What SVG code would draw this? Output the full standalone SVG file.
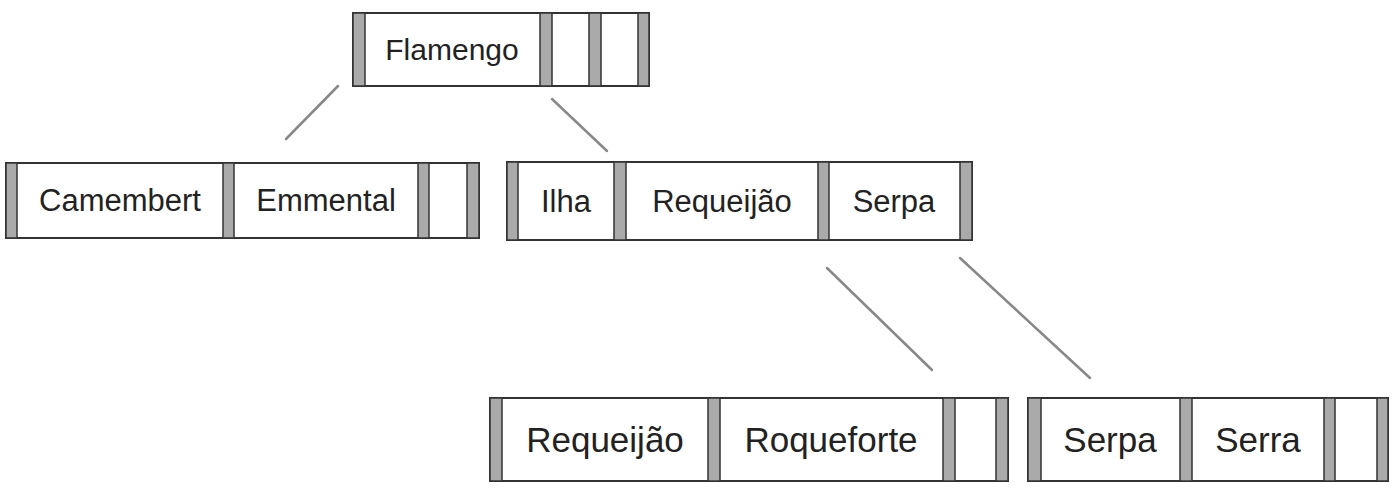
<svg xmlns="http://www.w3.org/2000/svg" width="1395" height="491" viewBox="0 0 1395 491">
<style>
.box{fill:#fff;stroke:#333;stroke-width:2}
.bar{fill:#aaa;stroke:#333;stroke-width:1.5}
.t{font-family:"Liberation Sans",Arial,sans-serif;fill:#222;text-anchor:middle}
.edge{stroke:#888;stroke-width:2.5;stroke-linecap:round}
</style>
<rect width="1395" height="491" fill="#fff"/>
<g id="connectors">
<line class="edge" x1="338" y1="86" x2="286" y2="139"/>
<line class="edge" x1="552" y1="99" x2="607" y2="151"/>
<line class="edge" x1="827" y1="268" x2="932" y2="370"/>
<line class="edge" x1="960" y1="258" x2="1090" y2="378"/>
</g>
<g id="node-root">
<rect class="box" x="353" y="13" width="296" height="73"/>
<rect class="bar" x="353" y="13" width="12" height="73"/>
<rect class="bar" x="540" y="13" width="12" height="73"/>
<rect class="bar" x="589" y="13" width="12" height="73"/>
<rect class="bar" x="638" y="13" width="11" height="73"/>
<text class="t" x="452" y="60" font-size="30">Flamengo</text>
</g>
<g id="node-left">
<rect class="box" x="6" y="163" width="473" height="75"/>
<rect class="bar" x="6" y="163" width="11" height="75"/>
<rect class="bar" x="223" y="163" width="11" height="75"/>
<rect class="bar" x="418" y="163" width="11" height="75"/>
<rect class="bar" x="467" y="163" width="12" height="75"/>
<text class="t" x="120" y="211" font-size="31">Camembert</text>
<text class="t" x="326" y="211" font-size="31">Emmental</text>
</g>
<g id="node-mid">
<rect class="box" x="507" y="162" width="465" height="78"/>
<rect class="bar" x="507" y="162" width="11" height="78"/>
<rect class="bar" x="614" y="162" width="12" height="78"/>
<rect class="bar" x="818" y="162" width="11" height="78"/>
<rect class="bar" x="960" y="162" width="12" height="78"/>
<text class="t" x="566" y="212" font-size="31">Ilha</text>
<text class="t" x="722" y="212" font-size="31">Requeijão</text>
<text class="t" x="894" y="212" font-size="31">Serpa</text>
</g>
<g id="node-bl">
<rect class="box" x="490" y="398" width="518" height="83"/>
<rect class="bar" x="490" y="398" width="12" height="83"/>
<rect class="bar" x="708" y="398" width="12" height="83"/>
<rect class="bar" x="943" y="398" width="12" height="83"/>
<rect class="bar" x="996" y="398" width="12" height="83"/>
<text class="t" x="605" y="452" font-size="35">Requeijão</text>
<text class="t" x="831" y="452" font-size="35">Roqueforte</text>
</g>
<g id="node-br">
<rect class="box" x="1028" y="398" width="360" height="83"/>
<rect class="bar" x="1028" y="398" width="13" height="83"/>
<rect class="bar" x="1180" y="398" width="12" height="83"/>
<rect class="bar" x="1324" y="398" width="11" height="83"/>
<rect class="bar" x="1377" y="398" width="11" height="83"/>
<text class="t" x="1110" y="452" font-size="35">Serpa</text>
<text class="t" x="1258" y="452" font-size="35">Serra</text>
</g>
</svg>
